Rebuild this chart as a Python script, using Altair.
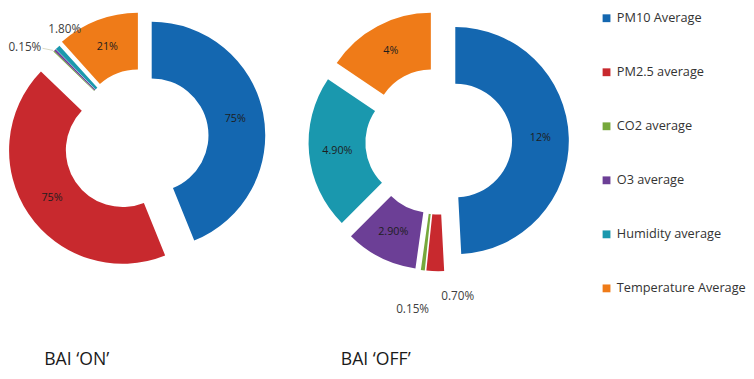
import math
import altair as alt
import pandas as pd

# ---- data ----
series = ["PM10 Average", "PM2.5 average", "CO2 average", "O3  average",
          "Humidity  average", "Temperature Average"]
panels = ["BAI \u2018ON\u2019", "BAI \u2018OFF\u2019"]
# slice sizes (degrees of the ring, as drawn)
on_deg = [158, 156, 0.5, 1.0, 2.5, 42]
off_deg = [177, 9, 2, 37, 79, 56]
# data labels as printed
on_labels = ["75%", "75%", "0.15%", "", "1.80%", "21%"]
off_labels = ["12%", "0.70%", "0.15%", "2.90%", "4.90%", "4%"]

# ---- style / layout ----
colors = ["#1467b0", "#c8292e", "#76a83b", "#6c3f96", "#1a98ae", "#ef7b18"]
R_OUT, R_IN, LAB_R = 116, 58, 87
centers = {panels[0]: (129, 126), panels[1]: (432, 130)}
explode = {panels[0]: [10, 24, 10, 10, 10, 12], panels[1]: [17] * 6}
# outside label placement: (radius, angle deg) from exploded slice centre
outside = {
    (panels[0], "CO2 average"): (141, 307),
    (panels[0], "Humidity  average"): (126, 325),
    (panels[1], "PM2.5 average"): (143, 172),
    (panels[1], "CO2 average"): (157, 189),
}
leader = {(panels[0], "CO2 average")}

rows = []
for p, vals, labs in [(panels[0], on_deg, on_labels), (panels[1], off_deg, off_labels)]:
    for i, (n, v, l) in enumerate(zip(series, vals, labs)):
        lr, ld = outside.get((p, n), (None, None))
        rows.append(dict(panel=p, name=n, order=i, value=v, label=l,
                         cx=centers[p][0], cy=centers[p][1], explode=explode[p][i],
                         lab_r=lr, lab_deg=ld, outside=(p, n) in outside,
                         leader=(p, n) in leader))
df = pd.DataFrame(rows)

base = (
    alt.Chart(df)
    .transform_joinaggregate(total="sum(value)", groupby=["panel"])
    .transform_window(cum="sum(value)", groupby=["panel"],
                      sort=[alt.SortField("order")], frame=[None, 0])
    .transform_calculate(start="(datum.cum - datum.value) / datum.total",
                         end="datum.cum / datum.total")
    .transform_calculate(ang="PI * (datum.start + datum.end)")
    .transform_calculate(px="datum.cx + datum.explode * sin(datum.ang)",
                         py="datum.cy - datum.explode * cos(datum.ang)")
    .transform_calculate(la="isValid(datum.lab_deg) ? datum.lab_deg * PI / 180 : datum.ang",
                         lr=f"isValid(datum.lab_r) ? datum.lab_r : {LAB_R}")
    .transform_calculate(lx="datum.px + datum.lr * sin(datum.la)",
                         ly="datum.py - datum.lr * cos(datum.la)",
                         ex=f"datum.px + {R_OUT + 1} * sin(datum.ang)",
                         ey=f"datum.py - {R_OUT + 1} * cos(datum.ang)")
)

X = lambda f: alt.X(f, type="quantitative", scale=None, axis=None)
Y = lambda f: alt.Y(f, type="quantitative", scale=None, axis=None)

arcs = base.mark_arc(radius=R_OUT, radius2=R_IN).encode(
    x=X("px"), y=Y("py"),
    theta=alt.Theta("start:Q", scale=alt.Scale(domain=[0, 1], range=[0, 2 * math.pi])),
    theta2="end:Q",
    color=alt.Color("name:N", scale=alt.Scale(domain=series, range=colors),
                    legend=alt.Legend(orient="none", legendX=597, legendY=-2, title=None,
                                      symbolType="square", symbolSize=64,
                                      symbolStrokeWidth=0, labelFont="Open Sans",
                                      labelFontSize=13, labelColor="#333333",
                                      labelOffset=4, rowPadding=41.2)),
)

inside_txt = base.transform_filter("datum.label != '' && !datum.outside").mark_text(
    font="Open Sans", fontSize=11, color="#1e1e1e").encode(x=X("lx"), y=Y("ly"), text="label:N")
outside_txt = base.transform_filter("datum.outside").mark_text(
    font="Open Sans", fontSize=12, color="#404040").encode(x=X("lx"), y=Y("ly"), text="label:N")
lead = base.transform_filter("datum.leader").transform_calculate(
    sx="datum.lx + 18", sy="datum.ly + 1").mark_rule(color="#d8d8c4", strokeWidth=1).encode(
    x=X("sx"), y=Y("sy"), x2="ex:Q", y2="ey:Q")

tdf = pd.DataFrame({"panel": panels})
titles = alt.Chart(tdf).transform_calculate(
    tx="datum.panel == '%s' ? 29 : 332" % panels[0], ty="359").mark_text(
    font="Open Sans", fontSize=18, color="#1a1a1a", align="left", baseline="alphabetic").encode(
    x=X("tx"), y=Y("ty"), text="panel:N")

chart = alt.layer(arcs, inside_txt, outside_txt, lead, titles).properties(
    width=738, height=363, padding=0).configure_view(stroke=None)

chart.save("out.html", embed_options={"renderer": "svg", "actions": False})
